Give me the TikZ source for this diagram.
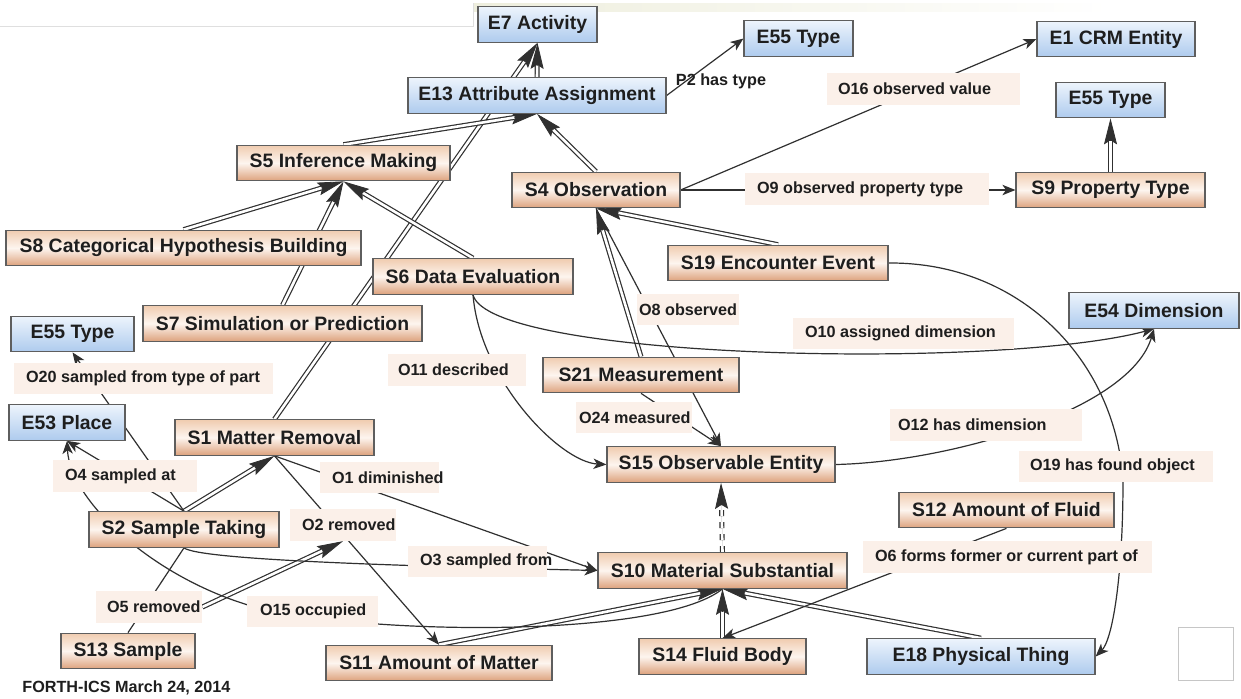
\documentclass[tikz,border=0pt]{standalone}
\usepackage{fontspec}
\setmainfont{Liberation Sans}
\usetikzlibrary{arrows.meta}
\definecolor{orT}{HTML}{F0CCB0}
\definecolor{orM}{HTML}{FDF5EF}
\definecolor{orB}{HTML}{DDA27D}
\definecolor{blT}{HTML}{EDF4FC}
\definecolor{blB}{HTML}{AECBEE}
\definecolor{bord}{HTML}{5E5E5E}
\definecolor{txt}{HTML}{1E1E1E}
\definecolor{edgec}{HTML}{303030}
\definecolor{labbg}{HTML}{FBF0E9}
\definecolor{hdr}{HTML}{EEEEDD}
\pgfdeclarelayer{edges}
\pgfsetlayers{edges,main}
\newcommand\nfont{\fontsize{9.7}{11}\selectfont\bfseries}
\newcommand\lfont{\fontsize{8.1}{9.5}\selectfont\bfseries}
\newcommand\ltxt[2]{\makebox[#1][l]{#2}}
\newcommand\isaedge[3][]{%
  \draw[isatip,#1] (#2) -- (#3);
  \draw[isaline,#1] (#2) -- (#3);}
\begin{document}
\begin{tikzpicture}[x=0.5pt,y=-0.5pt,
 box/.style={draw=bord, line width=0.6pt, inner sep=0pt, minimum height=17.75pt, font=\nfont, text=txt},
 snode/.style={box, top color=orT, bottom color=orB, middle color=orM},
 enode/.style={box, top color=blT, bottom color=blB},
 lab/.style={fill=labbg, inner sep=0pt, minimum height=15.75pt, font=\lfont, text=txt},
 rel/.style={draw=edgec, line width=0.6pt, -{Stealth[length=6.5pt,width=5.2pt,inset=1.8pt]}},
 plainedge/.style={draw=edgec, line width=0.6pt},
 isatip/.style={draw=edgec, fill=edgec, line width=0.4pt, -{Stealth[length=13pt,width=6.5pt,inset=2pt,fill=edgec]}},
 isaline/.style={draw=edgec, line width=0.6pt, double=white, double distance=1.3pt, shorten >=11.5pt},
]
\useasboundingbox (0,0) rectangle (1241,698);
% class nodes
\node[enode, minimum width=59.5pt] (e7) at (537.5,24.5) {E7 Activity};
\node[enode, minimum width=129pt] (e13) at (537,95.5) {E13 Attribute Assignment};
\node[enode, minimum width=54.5pt] (e55a) at (798.5,38.5) {E55 Type};
\node[enode, minimum width=79pt] (e1) at (1116,39) {E1 CRM Entity};
\node[enode, minimum width=54.5pt] (e55b) at (1110.5,100) {E55 Type};
\node[snode, minimum width=94.5pt] (s9) at (1110.5,190) {S9 Property Type};
\node[snode, minimum width=84pt] (s4) at (596,190) {S4 Observation};
\node[snode, minimum width=106.5pt] (s5) at (343.5,163) {S5 Inference Making};
\node[snode, minimum width=177.5pt] (s8) at (183.5,248) {S8 Categorical Hypothesis Building};
\node[snode, minimum width=100pt] (s6) at (473,276.5) {S6 Data Evaluation};
\node[snode, minimum width=139.5pt] (s7) at (282.5,323.5) {S7 Simulation or Prediction};
\node[enode, minimum width=61.5pt] (e55c) at (72.5,334) {E55 Type};
\node[enode, minimum width=58pt] (e53) at (67,422.5) {E53 Place};
\node[snode, minimum width=99.5pt] (s1) at (274.5,437.5) {S1 Matter Removal};
\node[snode, minimum width=95pt] (s2) at (184,529.5) {S2 Sample Taking};
\node[snode, minimum width=67pt] (s13) at (128,651) {S13 Sample};
\node[snode, minimum width=113pt] (s11) at (439,663) {S11 Amount of Matter};
\node[snode, minimum width=83.5pt] (s14) at (722.5,656.5) {S14 Fluid Body};
\node[enode, minimum width=114pt] (e18) at (981,656.5) {E18 Physical Thing};
\node[snode, minimum width=124.5pt] (s10) at (722.5,570.5) {S10 Material Substantial};
\node[snode, minimum width=107.5pt] (s12) at (1006.5,510) {S12 Amount of Fluid};
\node[snode, minimum width=114pt] (s15) at (721,464.5) {S15 Observable Entity};
\node[snode, minimum width=98pt] (s21) at (641,375) {S21 Measurement};
\node[snode, minimum width=110pt] (s19) at (778,263) {S19 Encounter Event};
\node[enode, minimum width=85pt] (e54) at (1154,310.5) {E54 Dimension};
% property labels
\node[font=\lfont, text=txt, inner sep=0pt] (p2) at (721,81) {P2 has type};
\node[lab, minimum width=96.5pt] (o16) at (923.5,89) {\ltxt{85.5pt}{O16 observed value}};
\node[lab, minimum width=122pt] (o9) at (867,189) {\ltxt{110pt}{O9 observed property type}};
\node[lab, minimum width=51pt] (o8) at (688,309.5) {\ltxt{49pt}{O8 observed}};
\node[lab, minimum width=110.5pt] (o10) at (903.5,333.5) {\ltxt{98.5pt}{O10 assigned dimension}};
\node[lab, minimum width=69pt] (o11) at (457,370) {\ltxt{59pt}{O11 described}};
\node[lab, minimum width=58pt] (o24) at (634,417.5) {\ltxt{55pt}{O24 measured}};
\node[lab, minimum width=96pt] (o12) at (986,425) {\ltxt{88pt}{O12 has dimension}};
\node[lab, minimum width=97pt] (o19) at (1116,466.5) {\ltxt{86pt}{O19 has found object}};
\node[lab, minimum width=144.5pt] (o6) at (1007.5,557) {\ltxt{132.5pt}{O6 forms former or current part of}};
\node[lab, minimum width=72pt] (o4) at (125,476) {\ltxt{60pt}{O4 sampled at}};
\node[lab, minimum width=59.5pt] (o1) at (379.5,477.5) {\ltxt{47.5pt}{O1 diminished}};
\node[lab, minimum width=53pt] (o2) at (343,525) {\ltxt{41pt}{O2 removed}};
\node[lab, minimum width=69.5pt] (o3) at (477.5,561.5) {\ltxt{57.5pt}{O3 sampled from}};
\node[lab, minimum width=53pt] (o5) at (149,607) {\ltxt{42pt}{O5 removed}};
\node[lab, minimum width=65.5pt] (o15) at (312.5,611.5) {\ltxt{52.5pt}{O15 occupied}};
\node[lab, minimum width=129.5pt] (o20) at (143.5,378.5) {\ltxt{117.5pt}{O20 sampled from type of part}};
\node[font=\lfont, text=txt, inner sep=0pt, anchor=west] (forth) at (22,688) {FORTH-ICS March 24, 2014};
\node[draw=gray!45, fill=white, line width=0.4pt, minimum width=27.5pt, minimum height=26.5pt, inner sep=0pt] (sq) at (1205.5,653.5) {};
\coordinate (o15bend) at (248,605);
\coordinate (o19mid) at (1123,480);
\begin{pgfonlayer}{edges}
\fill[white] (0,0) rectangle (1241,698);
\shade[left color=hdr, right color=white] (473,3) rectangle (1110,11);
\draw[gray!25, line width=0.5pt] (0,26) -- (473,26) -- (473,3);
% is-a edges
\isaedge{e13.north}{e7.south}
\isaedge{s1.north}{e7.south}
\isaedge{s5.north}{e13.south}
\isaedge{s4.north}{e13.south}
\isaedge{s8.north}{s5.south}
\isaedge{s7.north}{s5.south}
\isaedge{s6.north}{s5.south}
\isaedge{s2.north}{s1.south}
\isaedge{o5.east}{o2.south}
\isaedge{s9.north}{e55b.south}
\isaedge{s19.north}{s4.south}
\isaedge{s21.north}{s4.south}
\isaedge[dashed]{s10.north}{s15.south}
\isaedge{s11.north}{s10.south}
\isaedge{s14.north}{s10.south}
\isaedge{e18.north}{s10.south}
% properties
\draw[rel] (e13.east) -- (e55a.west);
\draw[rel] (s4.east) -- (e1.west);
\draw[rel] (s4.east) -- (s9.west);
\draw[rel] (s4.south) -- (s15.north);
\draw[rel] (s21.south) -- (s15.north);
\draw[rel] (s6.south) .. controls (480,380) and (560,462) .. (s15.west);
\draw[rel] (s6.south) .. controls (490,360) and (1000,370) .. (e54.south);
\draw[rel] (s15.east) .. controls (950,462) and (1130,410) .. (e54.south);
\draw[rel] (s19.east) .. controls (1020,262) and (1115,360) .. (o19mid) .. controls (1123,580) and (1112,640) .. (e18.east);
\draw[rel] (s12.south) -- (s14.north);
\draw[rel] (s1.south) -- (s10.west);
\draw[rel] (s1.south) -- (s11.north);
\draw[rel] (s2.south) .. controls (200,560) and (400,566) .. (s10.west);
\draw[plainedge] (s2.south) -- (s13.north);
\draw[rel] (s10.south) .. controls (660,640) and (350,635) .. (o15bend) .. controls (150,575) and (70,500) .. (e53.south);
\draw[rel] (s2.north) -- (e53.south);
\draw[rel] (s2.north) -- (e55c.south);
\end{pgfonlayer}
\end{tikzpicture}
\end{document}
